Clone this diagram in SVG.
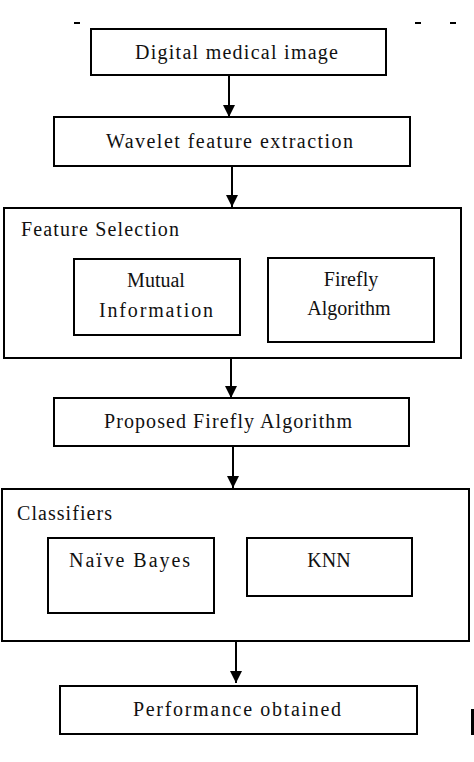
<svg xmlns="http://www.w3.org/2000/svg" width="474" height="762" viewBox="0 0 474 762">
<style>
.box{fill:#fff;stroke:#000;stroke-width:2}
.c{text-anchor:middle}
.con line{stroke:#000;stroke-width:2}
</style>
<defs>
<marker id="ah" viewBox="0 0 10 10" refX="10" refY="5" markerWidth="12" markerHeight="12" markerUnits="userSpaceOnUse" orient="auto">
<path d="M0,0 L10,5 L0,10 z" fill="#000"/>
</marker>
</defs>
<rect width="474" height="762" fill="#fff"/>
<g id="marks" stroke="#000" stroke-width="2">
<line x1="74" y1="23" x2="80" y2="23"/>
<line x1="415" y1="23" x2="421" y2="23"/>
<line x1="450" y1="23" x2="456" y2="23"/>
<rect x="471" y="709" width="3" height="26" fill="#000" stroke="none"/>
</g>
<g font-family="Liberation Serif, Times New Roman, DejaVu Serif, serif" font-size="20" fill="#111">
<g id="n1">
<rect class="box" x="91" y="29" width="295" height="46"/>
<text x="135" y="59" textLength="203" lengthAdjust="spacing">Digital medical image</text>
</g>
<g id="n2">
<rect class="box" x="54" y="117" width="356" height="49"/>
<text x="106" y="148" textLength="247" lengthAdjust="spacing">Wavelet feature extraction</text>
</g>
<g id="n3">
<rect class="box" x="4" y="208" width="457" height="150"/>
<text x="21" y="236" textLength="158" lengthAdjust="spacing">Feature Selection</text>
</g>
<g id="n3a">
<rect class="box" x="74" y="259" width="166" height="76"/>
<text class="c" x="156" y="287">Mutual</text>
<text class="c" x="156" y="317" textLength="114" lengthAdjust="spacing">Information</text>
</g>
<g id="n3b">
<rect class="box" x="268" y="258" width="166" height="84"/>
<text class="c" x="351" y="286">Firefly</text>
<text class="c" x="349" y="315">Algorithm</text>
</g>
<g id="n4">
<rect class="box" x="54" y="398" width="355" height="48"/>
<text x="104" y="428" textLength="248" lengthAdjust="spacing">Proposed Firefly  Algorithm</text>
</g>
<g id="n5">
<rect class="box" x="2" y="489" width="467" height="152"/>
<text x="17" y="520" textLength="95" lengthAdjust="spacing">Classifiers</text>
</g>
<g id="n5a">
<rect class="box" x="48" y="538" width="166" height="75"/>
<text x="69" y="567" textLength="121" lengthAdjust="spacing">Naïve Bayes</text>
</g>
<g id="n5b">
<rect class="box" x="247" y="538" width="165" height="58"/>
<text class="c" x="329" y="567">KNN</text>
</g>
<g id="n6">
<rect class="box" x="60" y="686" width="357" height="48"/>
<text x="133" y="716" textLength="208" lengthAdjust="spacing">Performance obtained</text>
</g>
</g>
<g id="connectors" class="con">
<line x1="229" y1="75" x2="229" y2="117" marker-end="url(#ah)"/>
<line x1="232" y1="166" x2="232" y2="207" marker-end="url(#ah)"/>
<line x1="231" y1="358" x2="231" y2="398" marker-end="url(#ah)"/>
<line x1="233" y1="446" x2="233" y2="488" marker-end="url(#ah)"/>
<line x1="236" y1="641" x2="236" y2="683" marker-end="url(#ah)"/>
</g>
</svg>
